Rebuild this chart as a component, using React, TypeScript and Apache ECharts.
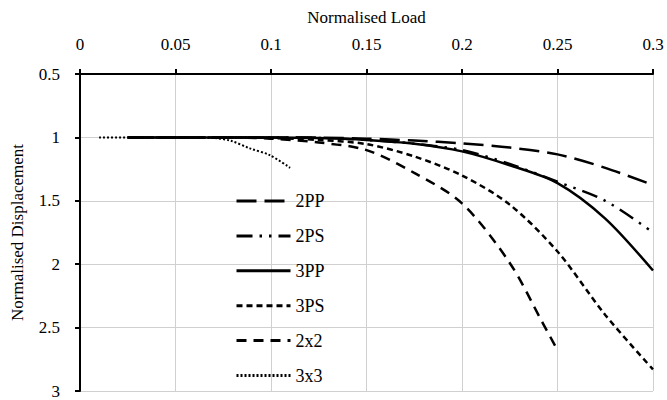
import React, { useEffect, useRef } from "react";
import * as echarts from "echarts";

const loadX = [0.025, 0.05, 0.075, 0.1, 0.125, 0.15, 0.175, 0.2, 0.225, 0.25, 0.275, 0.3];
const disp2PP = [1, 1, 1, 1, 1.002, 1.01, 1.025, 1.047, 1.08, 1.134, 1.24, 1.376];
const disp2PS = [1, 1, 1, 1, 1.005, 1.02, 1.05, 1.1, 1.21, 1.35, 1.5, 1.75];
const disp3PP = [1, 1, 1, 1, 1.005, 1.02, 1.05, 1.11, 1.22, 1.36, 1.64, 2.05];
const disp3PS = [1, 1, 1, 1.005, 1.02, 1.053, 1.15, 1.3, 1.53, 1.9, 2.4, 2.83];
const load2x2 = [0.025, 0.05, 0.075, 0.1, 0.125, 0.15, 0.175, 0.2, 0.225, 0.2425, 0.249];
const disp2x2 = [1, 1, 1, 1.01, 1.04, 1.1, 1.28, 1.52, 1.99, 2.47, 2.65];
const load3x3 = [0.01, 0.03, 0.05, 0.07, 0.079, 0.089, 0.0994, 0.11];
const disp3x3 = [1, 1, 1, 1.005, 1.027, 1.087, 1.14, 1.24];
const xTicks = [0, 0.05, 0.1, 0.15, 0.2, 0.25, 0.3];

const pairs = (xs: number[], ys: number[]) => xs.map((x, i) => [x, ys[i]]);

const FONT = "Liberation Serif";

export default function App() {
  const ref = useRef<HTMLDivElement>(null);
  useEffect(() => {
    const chart = echarts.init(ref.current!, null, { renderer: "svg" });
    const mk = (name: string, data: number[][], type: any, width: number) => ({
      name,
      type: "line",
      data,
      smooth: 0.3,
      symbol: "none",
      showSymbol: false,
      lineStyle: { color: "#000", width, type, cap: "butt" },
      itemStyle: { color: "#000" },
    });
    chart.setOption({
      animation: false,
      textStyle: { fontFamily: FONT },
      grid: { left: 80, right: 14, top: 74, bottom: 9, containLabel: false },
      legend: {
        orient: "vertical",
        left: 230,
        top: 187,
        itemWidth: 54,
        itemHeight: 18,
        itemGap: 16.9,
        itemStyle: { opacity: 0 },
        lineStyle: { width: 3 },
        textStyle: { fontFamily: FONT, fontSize: 18, color: "#000" },
        data: ["2PP", "2PS", "3PP", "3PS", "2x2", "3x3"],
      },
      xAxis: {
        type: "value",
        position: "top",
        min: 0,
        max: 0.3,
        interval: 0.05,
        name: "Normalised Load",
        nameLocation: "middle",
        nameGap: 48,
        nameTextStyle: { fontFamily: FONT, fontSize: 17, color: "#000" },
        axisLine: { show: true, lineStyle: { color: "#000", width: 2 } },
        axisTick: { show: true, length: 5, lineStyle: { color: "#000", width: 2 } },
        axisLabel: {
          margin: 21,
          fontFamily: FONT,
          fontSize: 17,
          color: "#000",
          formatter: (v: number) => {
            const t = xTicks.find((k) => Math.abs(k - v) < 1e-9);
            return t === undefined ? "" : String(t);
          },
        },
        splitLine: { show: true, lineStyle: { color: "#d0d0d0", width: 1 } },
      },
      yAxis: {
        type: "value",
        inverse: true,
        min: 0.5,
        max: 3,
        interval: 0.5,
        name: "Normalised Displacement",
        nameLocation: "middle",
        nameGap: 54,
        nameTextStyle: { fontFamily: FONT, fontSize: 17, color: "#000" },
        axisLine: { show: true, lineStyle: { color: "#000", width: 2 } },
        axisTick: { show: true, length: 5, lineStyle: { color: "#000", width: 2 } },
        axisLabel: { margin: 20, fontFamily: FONT, fontSize: 17, color: "#000" },
        splitLine: { show: true, lineStyle: { color: "#d0d0d0", width: 1 } },
      },
      series: [
        mk("2PP", pairs(loadX, disp2PP), [20, 8], 2.5),
        mk("2PS", pairs(loadX, disp2PS), [16, 7, 2.5, 7, 2.5, 7], 2.5),
        mk("3PP", pairs(loadX, disp3PP), "solid", 2.5),
        mk("3PS", pairs(loadX, disp3PS), [6, 4], 2.5),
        mk("2x2", pairs(load2x2, disp2x2), [10, 7], 2.5),
        mk("3x3", pairs(load3x3, disp3x3), [2, 2], 2),
      ],
    });
    return () => chart.dispose();
  }, []);
  return <div ref={ref} style={{ width: 667, height: 400, position: "absolute", left: 0, top: 0 }} />;
}
